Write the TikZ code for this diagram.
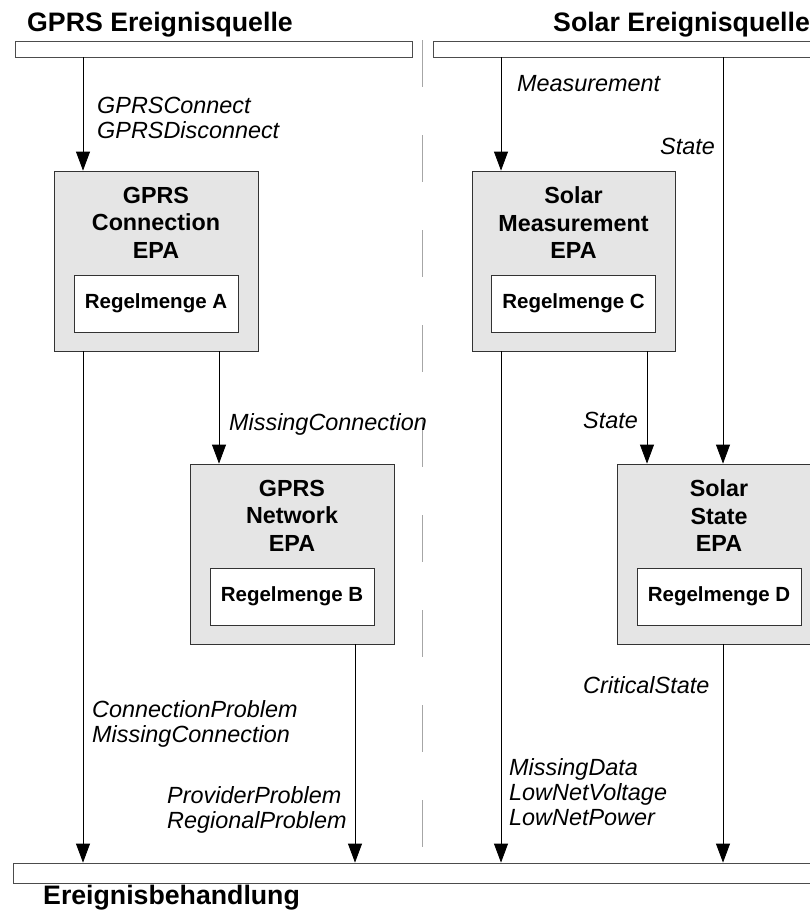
\documentclass[tikz,border=0pt]{standalone}
\usepackage{fontspec}
\setmainfont{Liberation Sans}
\usetikzlibrary{positioning,arrows.meta}

\begin{document}
\begin{tikzpicture}[
    x=1pt,y=-1pt,
    title/.style={font={\fontsize{26.7}{30}\selectfont\bfseries},inner sep=0pt,anchor=base west},
    bar/.style={draw=black!70,fill=white,line width=.8pt,inner sep=0pt},
    epa/.style={draw=black!80,fill=black!10,line width=.8pt,
        minimum width=204pt,minimum height=180pt,inner sep=0pt},
    epaname/.style={font={\fontsize{23.3}{27.5}\selectfont\bfseries},
        align=center,inner sep=0pt},
    rulebox/.style={draw=black!80,fill=white,line width=.8pt,
        minimum width=164pt,minimum height=57pt,inner sep=0pt,
        font={\fontsize{20.5}{22}\selectfont\bfseries}},
    event/.style={font={\fontsize{23.4}{25}\selectfont\itshape},
        align=left,inner sep=0pt},
    flow/.style={-{Triangle[width=14pt,length=19pt]},line width=.8pt},
    ]
    \clip (0,0) rectangle (810,914);
    % Separator between the two sources
    \draw[black!35,line width=.8pt,dash pattern=on 47pt off 48pt] (422,40) -- (422,860);

    % Sources and sink
    \node[title] (gprsTitle) at (27,31) {GPRS Ereignisquelle};
    \node[title] (solarTitle) at (553,31) {Solar Ereignisquelle};
    \node[bar,minimum width=397pt,minimum height=16pt] (gprsSrc) at (213.5,49) {};
    \node[bar,minimum width=397pt,minimum height=16pt] (solarSrc) at (631.5,49) {};
    \node[bar,minimum width=817pt,minimum height=20pt] (sink) at (421.5,873) {};
    \node[title] (sinkTitle) at (43,904) {Ereignisbehandlung};

    % EPAs
    \node[epa] (epaA) at (156,261) {};
    \node[epaname,below=16pt of epaA.north] {GPRS\\Connection\\EPA};
    \node[rulebox,below=104pt of epaA.north] (ruleA) {Regelmenge A};

    \node[epa] (epaB) at (292,554) {};
    \node[epaname,below=16pt of epaB.north] {GPRS\\Network\\EPA};
    \node[rulebox,below=104pt of epaB.north] (ruleB) {Regelmenge B};

    \node[epa,minimum width=203pt] (epaC) at (573.5,261) {};
    \node[epaname,below=16pt of epaC.north] {Solar\\Measurement\\EPA};
    \node[rulebox,below=104pt of epaC.north] (ruleC) {Regelmenge C};

    \node[epa] (epaD) at (719,554) {};
    \node[epaname,below=16pt of epaD.north] {Solar\\State\\EPA};
    \node[rulebox,below=104pt of epaD.north] (ruleD) {Regelmenge D};

    % x positions of the event streams
    \coordinate (xA) at (83,0);
    \coordinate (xAB) at (219,0);
    \coordinate (xB) at (355,0);
    \coordinate (xC) at (501,0);
    \coordinate (xCD) at (647,0);
    \coordinate (xD) at (723,0);

    % GPRS streams
    \draw[flow] (xA |- gprsSrc.south) -- (xA |- epaA.north);
    \draw[flow] (xA |- epaA.south) -- (xA |- sink.north);
    \draw[flow] (xAB |- epaA.south) -- (xAB |- epaB.north);
    \draw[flow] (xB |- epaB.south) -- (xB |- sink.north);

    % Solar streams
    \draw[flow] (xC |- solarSrc.south) -- (xC |- epaC.north);
    \draw[flow] (xD |- solarSrc.south) -- (xD |- epaD.north);
    \draw[flow] (xC |- epaC.south) -- (xC |- sink.north);
    \draw[flow] (xCD |- epaC.south) -- (xCD |- epaD.north);
    \draw[flow] (xD |- epaD.south) -- (xD |- sink.north);

    % Event names
    \node[event,anchor=north west] at (97,97) {GPRSConnect\\GPRSDisconnect};
    \node[event,anchor=north west] at (229,413) {MissingConnection};
    \node[event,anchor=north west] at (92,700) {ConnectionProblem\\MissingConnection};
    \node[event,anchor=north west] at (167,786) {ProviderProblem\\RegionalProblem};
    \node[event,anchor=north west] at (517,75) {Measurement};
    \node[event,anchor=north east] at (715,138) {State};
    \node[event,anchor=north east] at (638,412) {State};
    \node[event,anchor=north west] at (583,676) {CriticalState};
    \node[event,anchor=north west] at (509,758) {MissingData\\LowNetVoltage\\LowNetPower};
\end{tikzpicture}
\end{document}
